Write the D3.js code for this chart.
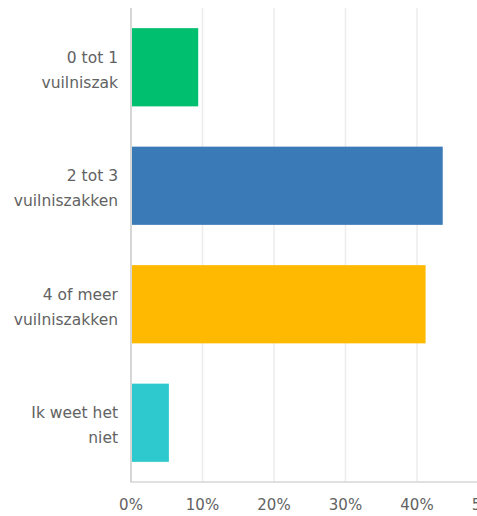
<!DOCTYPE html>
<html>
<head>
<meta charset="utf-8">
<script src="https://cdn.jsdelivr.net/npm/d3@7"></script>
<style>
  body { margin: 0; background: #fff; }
  svg { display: block; font-family: "DejaVu Sans", sans-serif; }
</style>
</head>
<body>
<svg id="chart" width="477" height="516"></svg>
<script>
const categories = [
  ["0 tot 1", "vuilniszak"],
  ["2 tot 3", "vuilniszakken"],
  ["4 of meer", "vuilniszakken"],
  ["Ik weet het", "niet"]
];
const values = [9.4, 43.6, 41.2, 5.3];
const colors = ["#00bf6f", "#3a7bb7", "#ffb900", "#2ec9cf"];
const ticks = [0, 10, 20, 30, 40, 50];

const svg = d3.select("#chart");
const margin = { top: 8, left: 131, bottom: 34 };
const height = 516 - margin.top - margin.bottom;

const x = d3.scaleLinear().domain([0, 50]).range([margin.left, margin.left + 357.5]);
const y = d3.scaleBand()
    .domain(d3.range(categories.length))
    .range([margin.top, margin.top + height])
    .paddingInner(0.34)
    .paddingOuter(0.17);

// gridlines
svg.append("g")
    .selectAll("line")
    .data(ticks.slice(1))
    .join("line")
    .attr("x1", d => x(d)).attr("x2", d => x(d))
    .attr("y1", margin.top).attr("y2", margin.top + height)
    .attr("stroke", "#ececec")
    .attr("stroke-width", 1.5);

// bars
svg.append("g")
    .selectAll("rect")
    .data(values)
    .join("rect")
    .attr("x", x(0))
    .attr("y", (d, i) => y(i))
    .attr("width", d => x(d) - x(0))
    .attr("height", y.bandwidth())
    .attr("fill", (d, i) => colors[i]);

// axis lines
svg.append("line")
    .attr("x1", x(0)).attr("x2", x(0))
    .attr("y1", margin.top).attr("y2", margin.top + height)
    .attr("stroke", "#d6d6d6").attr("stroke-width", 2);
svg.append("line")
    .attr("x1", x(0) - 1).attr("x2", 477)
    .attr("y1", margin.top + height).attr("y2", margin.top + height)
    .attr("stroke", "#d6d6d6").attr("stroke-width", 1.5);

// category labels
const labels = svg.append("g")
    .selectAll("text")
    .data(categories)
    .join("text")
    .attr("text-anchor", "end")
    .attr("fill", "#626262")
    .attr("font-size", 15.5);
labels.selectAll("tspan")
    .data((d, i) => d.map(t => ({ t, i, n: d.length })))
    .join("tspan")
    .attr("x", 118)
    .attr("y", (d, k) => y(d.i) + y.bandwidth() / 2 + (k - (d.n - 1) / 2) * 25 + 8)
    .text(d => d.t);

// tick labels
svg.append("g")
    .selectAll("text")
    .data(ticks)
    .join("text")
    .attr("x", d => x(d))
    .attr("y", 510)
    .attr("text-anchor", "middle")
    .attr("fill", "#626262")
    .attr("font-size", 15)
    .text(d => d + "%");
</script>
</body>
</html>
